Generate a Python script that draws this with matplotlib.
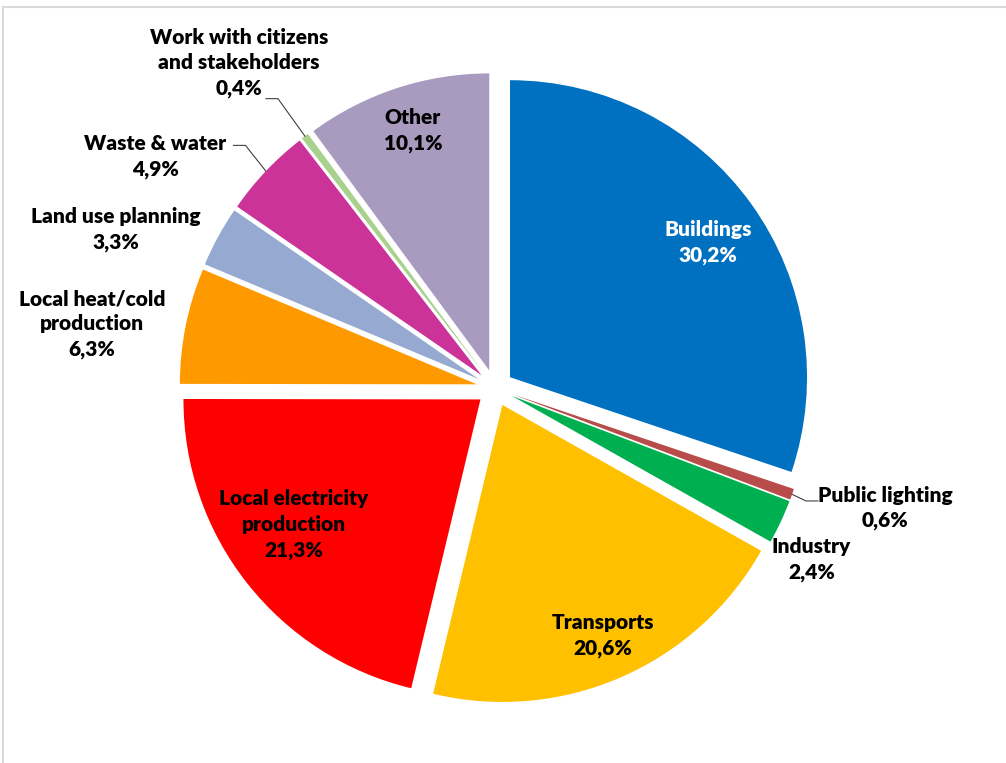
import numpy as np
import matplotlib.pyplot as plt
from matplotlib.patches import Rectangle

categories = ["Buildings", "Public lighting", "Industry", "Transports",
              "Local electricity\nproduction", "Local heat/cold\nproduction",
              "Land use planning", "Waste & water",
              "Work with citizens\nand stakeholders", "Other"]
shares = [30.2, 0.6, 2.4, 20.6, 21.3, 6.3, 3.3, 4.9, 0.4, 10.1]
colors = ["#0070C0", "#B84C4A", "#00B050", "#FFC000", "#FF0000", "#FF9900",
          "#95A9D1", "#CC3399", "#A9D18E", "#A99BC0"]

W, H = 1006, 763
CX, CY, R = 495, 375, 297
GAP = 18.5  # explode distance in px

# label placement: (angle in degrees, distance as a fraction of 300 px)
label_polar = [(34.4, 0.86), (-17.1, 1.36), (-28.5, 1.20), (-66.5, 0.90),
               (-145.8, 0.81), (171.0, 1.36), (157.3, 1.37), (145.7, 1.37),
               (128.2, 1.38), (107.7, 0.90)]
# leader line end, offset from the label centre (px)
leaders = {1: (-67, 7), 7: (78, 11), 8: (27, -36)}


def main():
    plt.rcParams["font.family"] = ["Lato", "DejaVu Sans"]
    fig = plt.figure(figsize=(W / 100, H / 100), dpi=100)
    ax = fig.add_axes([0, 0, 1, 1])

    wedges, _ = ax.pie(shares, colors=colors, startangle=90, counterclock=False,
                       explode=[GAP] * len(shares), center=(CX, CY), radius=R,
                       wedgeprops=dict(linewidth=0))

    for i, (name, val) in enumerate(zip(categories, shares)):
        ang, dist = label_polar[i]
        tx = CX + dist * 300 * np.cos(np.radians(ang))
        ty = CY + dist * 300 * np.sin(np.radians(ang))
        text = name + "\n" + f"{val:.1f}%".replace(".", ",")
        ax.text(tx, ty, text, ha="center", va="center", fontsize=15,
                fontweight="heavy", linespacing=1.4,
                color="white" if i == 0 else "black")

        if i in leaders:
            w = wedges[i]
            mid = np.radians((w.theta1 + w.theta2) / 2)
            sx = CX + (R + GAP) * np.cos(mid)
            sy = CY + (R + GAP) * np.sin(mid)
            ex, ey = tx + leaders[i][0], ty + leaders[i][1]
            bx = ex + 12 * np.sign(sx - ex)
            ax.plot([sx, bx, ex], [sy, ey, ey], color="#404040", lw=0.8)

    ax.add_patch(Rectangle((3, -20), 1100, H - 7 + 20, fill=False,
                           edgecolor="#D9D9D9", lw=1.5, clip_on=False))

    ax.set_xlim(0, W)
    ax.set_ylim(0, H)
    ax.set_aspect("equal")
    ax.axis("off")
    fig.savefig("out.png", dpi=100)


if __name__ == "__main__":
    main()
